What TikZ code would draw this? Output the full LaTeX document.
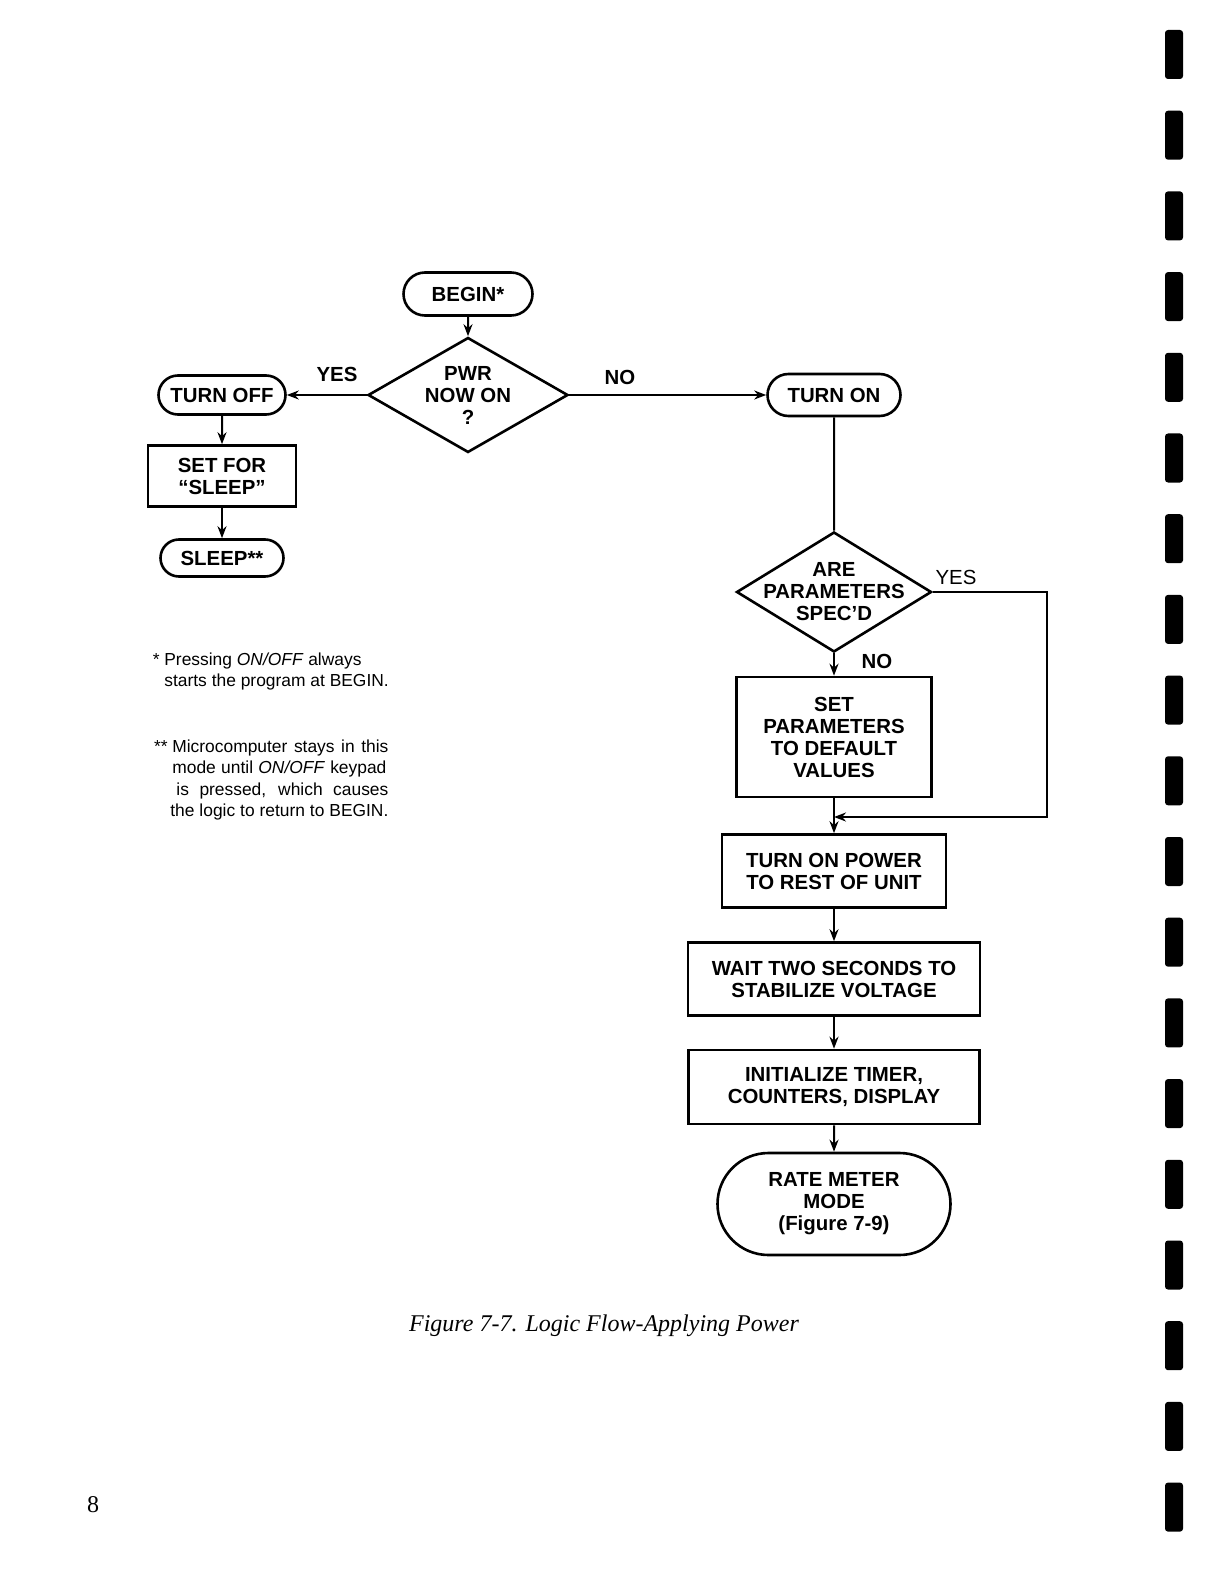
\documentclass[tikz,border=0pt]{standalone}
\usepackage{fontspec}
\setmainfont{Liberation Sans}
\newfontfamily\seriffont{Liberation Serif}
\usetikzlibrary{shapes.geometric,shapes.misc,arrows.meta}

\begin{document}
\begin{tikzpicture}[x=0.5pt,y=-0.5pt,
    chart/.style={font=\fontsize{10.2}{11}\selectfont\bfseries,align=center,inner sep=0pt},
    procbox/.style={chart,draw,line width=1.3pt},
    terminal/.style={chart,draw,rounded rectangle,line width=1.3pt},
    decision/.style={draw,diamond,line width=1.3pt,inner sep=0pt},
    flow/.style={line width=1pt,-{Stealth[length=6pt,width=4.5pt]}},
    note/.style={font=\fontsize{8.7}{10.75}\selectfont,align=left,inner sep=0pt,anchor=north west}]
    \useasboundingbox (0,0) rectangle (1205,1572);

    % left branch
    \node[terminal,minimum width=64.5pt,minimum height=21.5pt] (begin) at (468,294) {BEGIN*};
    \node[decision,minimum width=100pt,minimum height=57.5pt] (pwr) at (468,395) {};
    \node[chart] (pwrtext) at (pwr) {PWR\\NOW ON\\?};
    \node[terminal,minimum width=63.5pt,minimum height=19.5pt] (turnoff) at (222,395) {TURN OFF};
    \node[procbox,minimum width=74pt,minimum height=30.5pt] (setsleep) at (222,476) {SET FOR\\“SLEEP”};
    \node[terminal,minimum width=61.5pt,minimum height=18.5pt] (sleep) at (222,558) {SLEEP**};

    % right branch
    \node[terminal,minimum width=66.5pt,minimum height=21pt] (turnon) at (834,395) {TURN ON};
    \node[decision,minimum width=97.5pt,minimum height=60pt] (spec) at (834,592) {};
    \node[chart] (spectext) at (spec) {ARE\\PARAMETERS\\SPEC’D};
    \node[procbox,minimum width=97.5pt,minimum height=60pt] (setpar) at (834,737) {SET\\PARAMETERS\\TO DEFAULT\\VALUES};
    \node[procbox,minimum width=112pt,minimum height=36.5pt] (power) at (834,871) {TURN ON POWER\\TO REST OF UNIT};
    \node[procbox,minimum width=146pt,minimum height=36.5pt] (wait) at (834,979) {WAIT TWO SECONDS TO\\STABILIZE VOLTAGE};
    \node[procbox,minimum width=145.5pt,minimum height=37pt] (init) at (834,1087) {INITIALIZE TIMER,\\COUNTERS, DISPLAY};
    \node[terminal,minimum width=116.5pt,minimum height=51pt] (rate) at (834,1204) {RATE METER\\MODE\\(Figure 7-9)};

    % branch labels
    \node[chart] (yesoff) at (337,374) {YES};
    \node[chart] (nopwr) at (620,377) {NO};
    \node[chart,font=\fontsize{10.2}{11}\selectfont] (yesspec) at (956,577) {YES};
    \node[chart] (nospec) at (877,661) {NO};

    \draw[flow] (begin) -- (pwr);
    \draw[flow] (pwr.west) -- (turnoff.east);
    \draw[flow] (turnoff) -- (setsleep);
    \draw[flow] (setsleep) -- (sleep);
    \draw[flow] (pwr.east) -- (turnon.west);
    \draw[line width=1pt] (turnon) -- (spec.north);
    \draw[flow] (spec) -- (setpar);
    \draw[flow] (setpar) -- (power);
    \coordinate (join) at (834,817);
    \coordinate (loop) at (1047,592);
    \draw[flow] (spec.east) -- (loop) |- (join);
    \draw[flow] (power) -- (wait);
    \draw[flow] (wait) -- (init);
    \draw[flow] (init) -- (rate);

    % footnotes
    \node[note] (note1) at (164,652) {\llap{*\ }Pressing \textit{ON/OFF} always\\starts the program at BEGIN.};
    \node[note] (note2) at (172,739) {\llap{**\ }\makebox[108pt][s]{Microcomputer stays in this}\\
        \makebox[107pt][s]{mode until \textit{ON/OFF} keypad}\\
        \hspace*{2pt}\makebox[106pt][s]{is pressed, which causes}\\
        \hspace*{-1pt}\makebox[109pt][s]{the logic to return to BEGIN.}};

    \node[font=\seriffont\itshape\fontsize{12}{14}\selectfont] (caption) at (604,1326) {Figure 7-7. Logic Flow-Applying Power};
    \node[font=\seriffont\fontsize{12}{14}\selectfont] (pagenum) at (93,1505) {8};

    % binder marks
    \foreach \i in {0,...,18}
        \fill[rounded corners=1.5pt] (1165,{30+80.7*\i}) rectangle (1183,{79+80.7*\i});
\end{tikzpicture}
\end{document}
